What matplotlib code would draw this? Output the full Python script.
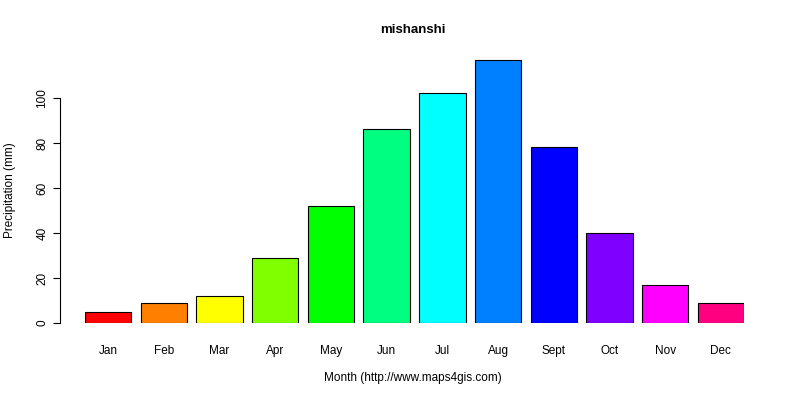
import matplotlib.pyplot as plt

plt.rcParams['font.family'] = ['Liberation Sans', 'DejaVu Sans']

# Monthly precipitation data
months = ['Jan', 'Feb', 'Mar', 'Apr', 'May', 'Jun', 'Jul', 'Aug', 'Sept', 'Oct', 'Nov', 'Dec']
precip = [5, 9, 12, 29, 52, 86, 102, 117, 78, 40, 17, 9]
colors = ['#FF0000', '#FF8000', '#FFFF00', '#80FF00', '#00FF00', '#00FF80',
          '#00FFFF', '#0080FF', '#0000FF', '#8000FF', '#FF00FF', '#FF0080']

fig = plt.figure(figsize=(8, 4), dpi=100)
# axes placed in pixel terms: x 85..744, y 59..323 (from top)
ax = fig.add_axes([85 / 800, (400 - 323) / 400, 659 / 800, 264 / 400])

xpos = [0.7 + 1.2 * i for i in range(len(months))]
ax.bar(xpos, precip, width=1, color=colors, edgecolor='black', linewidth=0.8)
ax.set_xlim(0.2, 14.4)
ax.set_ylim(0, 117.3)

for s in ['top', 'right', 'bottom']:
    ax.spines[s].set_visible(False)
ax.spines['left'].set_position(('outward', 18))
ax.spines['left'].set_bounds(0, 100)
ax.set_yticks(range(0, 101, 20))
ax.set_yticklabels([str(v) for v in range(0, 101, 20)], rotation=90, va='center', fontsize=8.5)
ax.set_xticks(xpos)
ax.set_xticklabels(months, fontsize=8.5)
ax.tick_params(axis='x', length=0, pad=16)
ax.tick_params(axis='y', length=5)

fig.text(413 / 800, 1 - 30 / 400, 'mishanshi', ha='center', va='center', fontsize=9.5, fontweight='bold')
fig.text(413 / 800, 1 - 378 / 400, 'Month (http://www.maps4gis.com)', ha='center', va='center', fontsize=8.5)
fig.text(10 / 800, 1 - 190 / 400, 'Precipitation (mm)', rotation=90, ha='center', va='center', fontsize=8.5)

fig.savefig('out.png', dpi=100)
